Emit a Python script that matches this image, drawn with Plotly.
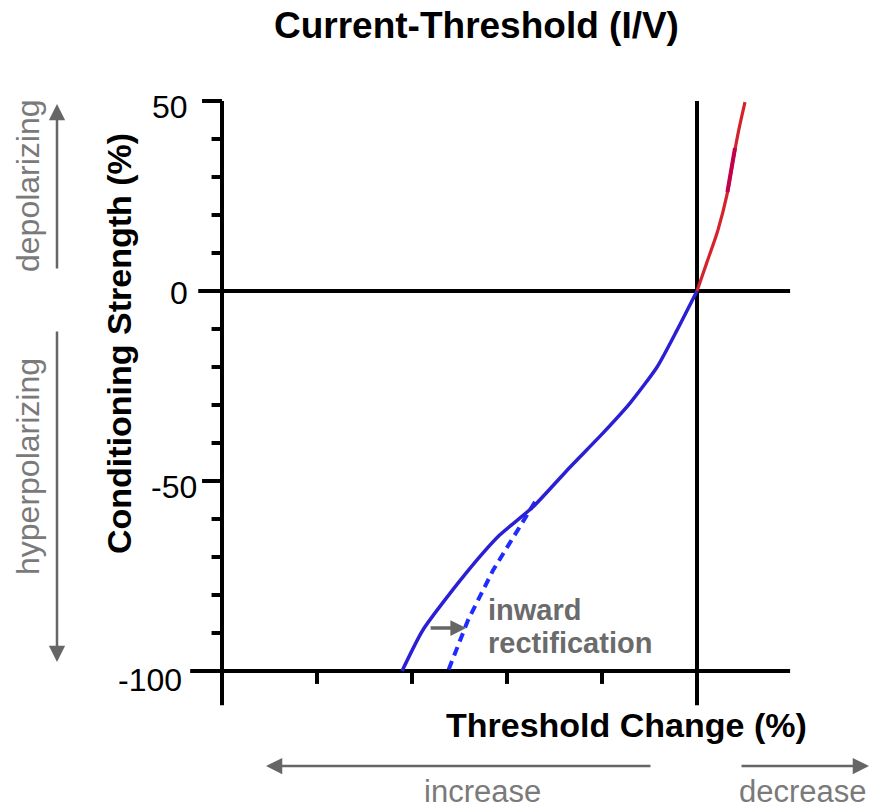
import plotly.graph_objects as go

# --- data -------------------------------------------------------------
# threshold change (%) vs conditioning strength (%)
depol_x = [0.0, 2.1, 4.4, 6.3, 7.6, 8.8, 10.1]
depol_y = [0.0, 7.6, 16.0, 25.3, 34.5, 42.4, 49.7]

accent_x = [6.4, 8.0]
accent_y = [26.0, 37.6]

hyper_x = [0.0, -4.2, -8.4, -14.1, -19.8, -26.7, -34.5, -41.6, -49.3, -57.7, -62.1]
hyper_y = [0.0, -10.3, -20.0, -29.5, -37.4, -46.3, -56.8, -64.3, -75.3, -89.2, -100.0]

nonrect_x = [-34.1, -38.9, -42.9, -48.2, -52.4]
nonrect_y = [-55.5, -65.0, -73.4, -86.6, -100.0]

y_major = [50, 0, -50, -100]
y_major_labels = ["50", "0", "-50", "-100"]
y_minor = [40, 30, 20, 10, -10, -20, -30, -40, -60, -70, -80, -90]
x_ticks = [-80, -60, -40, -20]

# --- geometry of the drawing area (data units per pixel) ----------------
W, H = 871, 811
X0_PX, XS = 697, 4.75      # x=0 at pixel column, pixels per unit
Y0_PX, YS = 291, 3.8       # y=0 at pixel row, pixels per unit
x_range = [(0 - X0_PX) / XS, (W - X0_PX) / XS]
y_range = [(Y0_PX - H) / YS, (Y0_PX - 0) / YS]

AX_LEFT = -100
AX_RIGHT = 19.6
AX_BOTTOM = -109

fig = go.Figure()

BLACK = "#000000"
LW = 4

def seg(x0, y0, x1, y1, w=LW, color=BLACK):
    fig.add_shape(type="line", x0=x0, y0=y0, x1=x1, y1=y1, xref="x", yref="y",
                  line=dict(color=color, width=w), layer="below")

# axis frame
seg(AX_LEFT, 50, AX_LEFT, AX_BOTTOM)          # left vertical axis
seg(0, 50, 0, AX_BOTTOM)                       # zero threshold line
seg(-105, 0, AX_RIGHT, 0)                      # zero strength line
seg(-106.7, -100, AX_RIGHT, -100)              # bottom axis
for v in y_major:
    if v not in (0, -100):
        seg(-104.2, v, AX_LEFT, v)
for v in y_minor:
    seg(-102.2, v, AX_LEFT, v)
for v in x_ticks:
    seg(v, -100, v, -103.4)

# curves
fig.add_trace(go.Scatter(x=nonrect_x, y=nonrect_y, mode="lines",
                         line=dict(color="#1f2bff", width=4, dash="9px,6px"),
                         hoverinfo="skip"))
fig.add_trace(go.Scatter(x=hyper_x, y=hyper_y, mode="lines",
                         line=dict(color="#2b1fd6", width=3.5, shape="spline", smoothing=0.6),
                         hoverinfo="skip"))
fig.add_trace(go.Scatter(x=depol_x, y=depol_y, mode="lines",
                         line=dict(color="#d4232b", width=3.2, shape="spline", smoothing=0.8),
                         hoverinfo="skip"))
fig.add_trace(go.Scatter(x=accent_x, y=accent_y, mode="lines",
                         line=dict(color="#c2004c", width=4),
                         hoverinfo="skip"))

ann = []
FONT = "Liberation Sans, Arial, sans-serif"

# y tick labels
label_yshift = {"50": -6, "0": -2, "-50": -6, "-100": -9}
label_xshift = {"50": 0, "0": 0, "-50": 9, "-100": -6}
for v, t in zip(y_major, y_major_labels):
    ann.append(dict(x=(190 - X0_PX) / XS, y=v, xref="x", yref="y", text=t, showarrow=False,
                    xanchor="right", yanchor="middle",
                    yshift=label_yshift[t], xshift=label_xshift[t],
                    font=dict(family=FONT, size=32, color="#000")))

def paper(px, py):
    return px / W, 1 - py / H

def label(text, px, py, size, color="#000", angle=0, xanchor="center"):
    tx, ty = paper(px, py)
    ann.append(dict(x=tx, y=ty, xref="paper", yref="paper", text=text, showarrow=False,
                    xanchor=xanchor, yanchor="middle", textangle=angle,
                    font=dict(family=FONT, size=size, color=color)))

# titles
label("<b>Current-Threshold (I/V)</b>", 476, 25, 37)
label("<b>Threshold Change (%)</b>", 626, 725, 34)
label("<b>Conditioning Strength (%)</b>", 119, 344, 34, angle=-90)

GRAY_T = "#7a7a7a"
GRAY_A = "#666666"

# direction hints
label("depolarizing", 28, 186, 32, GRAY_T, angle=-90)
label("hyperpolarizing", 28, 467, 32, GRAY_T, angle=-90)
label("increase", 482, 791, 31, GRAY_T)
label("decrease", 803, 791, 31, GRAY_T)

for tip, tail in [((57, 104), (57, 270)), ((57, 662), (57, 330)),
                  ((266, 766), (652, 766)), ((869, 766), (740, 766))]:
    tx, ty = paper(*tip)
    ann.append(dict(x=tx, y=ty, xref="paper", yref="paper", text="", showarrow=True,
                    ax=tail[0] - tip[0], ay=tail[1] - tip[1], arrowhead=2, arrowsize=1.3,
                    arrowwidth=2.5, arrowcolor=GRAY_A))

# inward rectification marker
ann.append(dict(x=-48.6, y=-88.7, xref="x", yref="y", text="", showarrow=True,
                ax=-37, ay=0, arrowhead=2, arrowsize=0.9, arrowwidth=3.5, arrowcolor=GRAY_A))
label("<b>inward</b>", 486, 610, 29, "#6b6b6b", xanchor="left")
label("<b>rectification</b>", 486, 643, 29, "#6b6b6b", xanchor="left")

fig.update_layout(
    width=W, height=H,
    margin=dict(l=0, r=0, t=0, b=0),
    paper_bgcolor="white", plot_bgcolor="white",
    showlegend=False,
    xaxis=dict(range=x_range, visible=False, fixedrange=True),
    yaxis=dict(range=y_range, visible=False, fixedrange=True),
    annotations=ann,
)

fig.write_html("out.html")
